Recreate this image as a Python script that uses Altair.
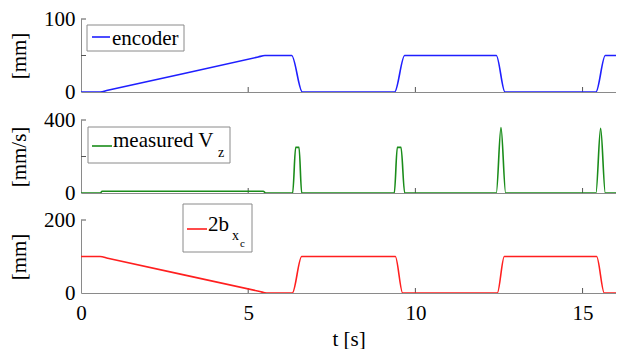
import altair as alt
import pandas as pd

# ---------------- data ----------------
t_enc = [0, 0.57, 0.8, 5.3, 5.5, 6.3, 6.62, 9.38, 9.68, 12.42, 12.68, 15.4, 15.68, 16.0]
v_enc = [0, 0, 2.3, 48.0, 50, 50, 0, 0, 50, 50, 0, 0, 50, 50]

t_vz = [0, 0.58, 0.63, 5.45, 5.52, 6.33, 6.42, 6.52, 6.6, 9.37, 9.46, 9.57, 9.68,
        12.42, 12.56, 12.7, 15.4, 15.54, 15.68, 16.0]
v_vz = [0, 0, 10, 10, 0, 0, 250, 250, 0, 0, 250, 250, 0,
        0, 358, 0, 0, 354, 0, 0]

t_bx = [0, 0.57, 0.8, 5.35, 5.55, 6.32, 6.6, 9.4, 9.62, 12.45, 12.66, 15.42, 15.65, 16.0]
v_bx = [100, 100, 95.4, 4.0, 0, 0, 100, 100, 0, 0, 100, 100, 0, 0]

x_ticks = [0, 5, 10, 15]
y_ticks_enc = [0, 50, 100]
y_ticks_vz = [0, 200, 400]
y_ticks_bx = [0, 100, 200]

X_MAX = 16.0
W = 535
H = 73
FONT = "Liberation Serif, DejaVu Serif, serif"
GRAY = "#8a8a8a"
TICK = "#555555"


def panel(t, v, color, ydom, yticks, ytitle, bottom, legend):
    df = pd.DataFrame({"t": t, "v": v})
    if bottom:
        xaxis = alt.Axis(
            values=x_ticks, grid=False, ticks=False, domainColor=GRAY,
            labelFlush=False, labelFont=FONT, labelFontSize=21,
            labelColor="black", labelPadding=9, title="t [s]", titlePadding=5,
        )
    else:
        xaxis = alt.Axis(values=x_ticks, grid=False, ticks=False,
                         domainColor=GRAY, labels=False, title=None)
    yaxis = alt.Axis(
        values=yticks, grid=False, ticks=False, domainColor=GRAY,
        labelFont=FONT, labelFontSize=21, labelColor="black", labelPadding=6,
        title=ytitle, titlePadding=14,
    )
    x = alt.X("t:Q", scale=alt.Scale(domain=[0, X_MAX], nice=False), axis=xaxis)
    y = alt.Y("v:Q", scale=alt.Scale(domain=ydom, nice=False), axis=yaxis)
    line = alt.Chart(df).mark_line(color=color, strokeWidth=1.6,
                                   interpolate="monotone", clip=True).encode(x=x, y=y)

    xt = pd.DataFrame({"t": x_ticks[1:]})
    xtick = alt.Chart(xt).mark_rule(color=TICK, strokeWidth=1).encode(
        x=alt.X("t:Q", scale=alt.Scale(domain=[0, X_MAX], nice=False)),
        y=alt.value(H), y2=alt.value(H - 5))
    yt = pd.DataFrame({"v": yticks[1:]})
    ytick = alt.Chart(yt).mark_rule(color=TICK, strokeWidth=1).encode(
        y=alt.Y("v:Q", scale=alt.Scale(domain=ydom, nice=False)),
        x=alt.value(0), x2=alt.value(5))

    layers = [xtick, ytick, line] + legend
    return alt.layer(*layers).properties(width=W, height=H)


def legend_box(x0, x1, y0, y1, sx0, sx1, sy, color, texts):
    base = alt.Chart(pd.DataFrame({"a": [0]}))
    box = base.mark_rect(fill="white", stroke=GRAY, strokeWidth=1).encode(
        x=alt.value(x0), x2=alt.value(x1), y=alt.value(y0), y2=alt.value(y1))
    sample = base.mark_rule(color=color, strokeWidth=1.6).encode(
        x=alt.value(sx0), x2=alt.value(sx1), y=alt.value(sy))
    out = [box, sample]
    for (txt, tx, ty, fs) in texts:
        out.append(base.mark_text(text=txt, font=FONT, fontSize=fs, color="black",
                                  align="left", baseline="alphabetic").encode(
            x=alt.value(tx), y=alt.value(ty)))
    return out


leg1 = legend_box(6, 103, 6, 32, 11, 29, 18, "#1f1fff",
                  [("encoder", 31, 26, 21)])
leg2 = legend_box(7, 149, 7, 43, 11, 31, 26, "#1a8c1a",
                  [("measured V", 32, 27, 21), ("z", 137, 37, 14)])
leg3 = legend_box(102, 171, -16, 32, 106, 126, 9, "#ff1f1f",
                  [("2b", 127, 11, 21), ("x", 151, 20, 14), ("c", 159, 27, 11)])

p1 = panel(t_enc, v_enc, "#1f1fff", [0, 100], y_ticks_enc, "[mm]", False, leg1)
p2 = panel(t_vz, v_vz, "#1a8c1a", [0, 400], y_ticks_vz, "[mm/s]", False, leg2)
p3 = panel(t_bx, v_bx, "#ff1f1f", [0, 200], y_ticks_bx, "[mm]", True, leg3)

top = alt.vconcat(p1, p2, spacing=7)
chart = alt.vconcat(top, p3, spacing=0).properties(
    padding={"left": 0, "top": 0, "right": 0, "bottom": 0}
).configure_view(strokeWidth=0).configure_axis(
    titleFont=FONT, titleFontSize=21, titleFontWeight="normal", titleColor="black",
    domainWidth=1,
)

chart.save("out.html", embed_options={"renderer": "svg", "actions": False})
